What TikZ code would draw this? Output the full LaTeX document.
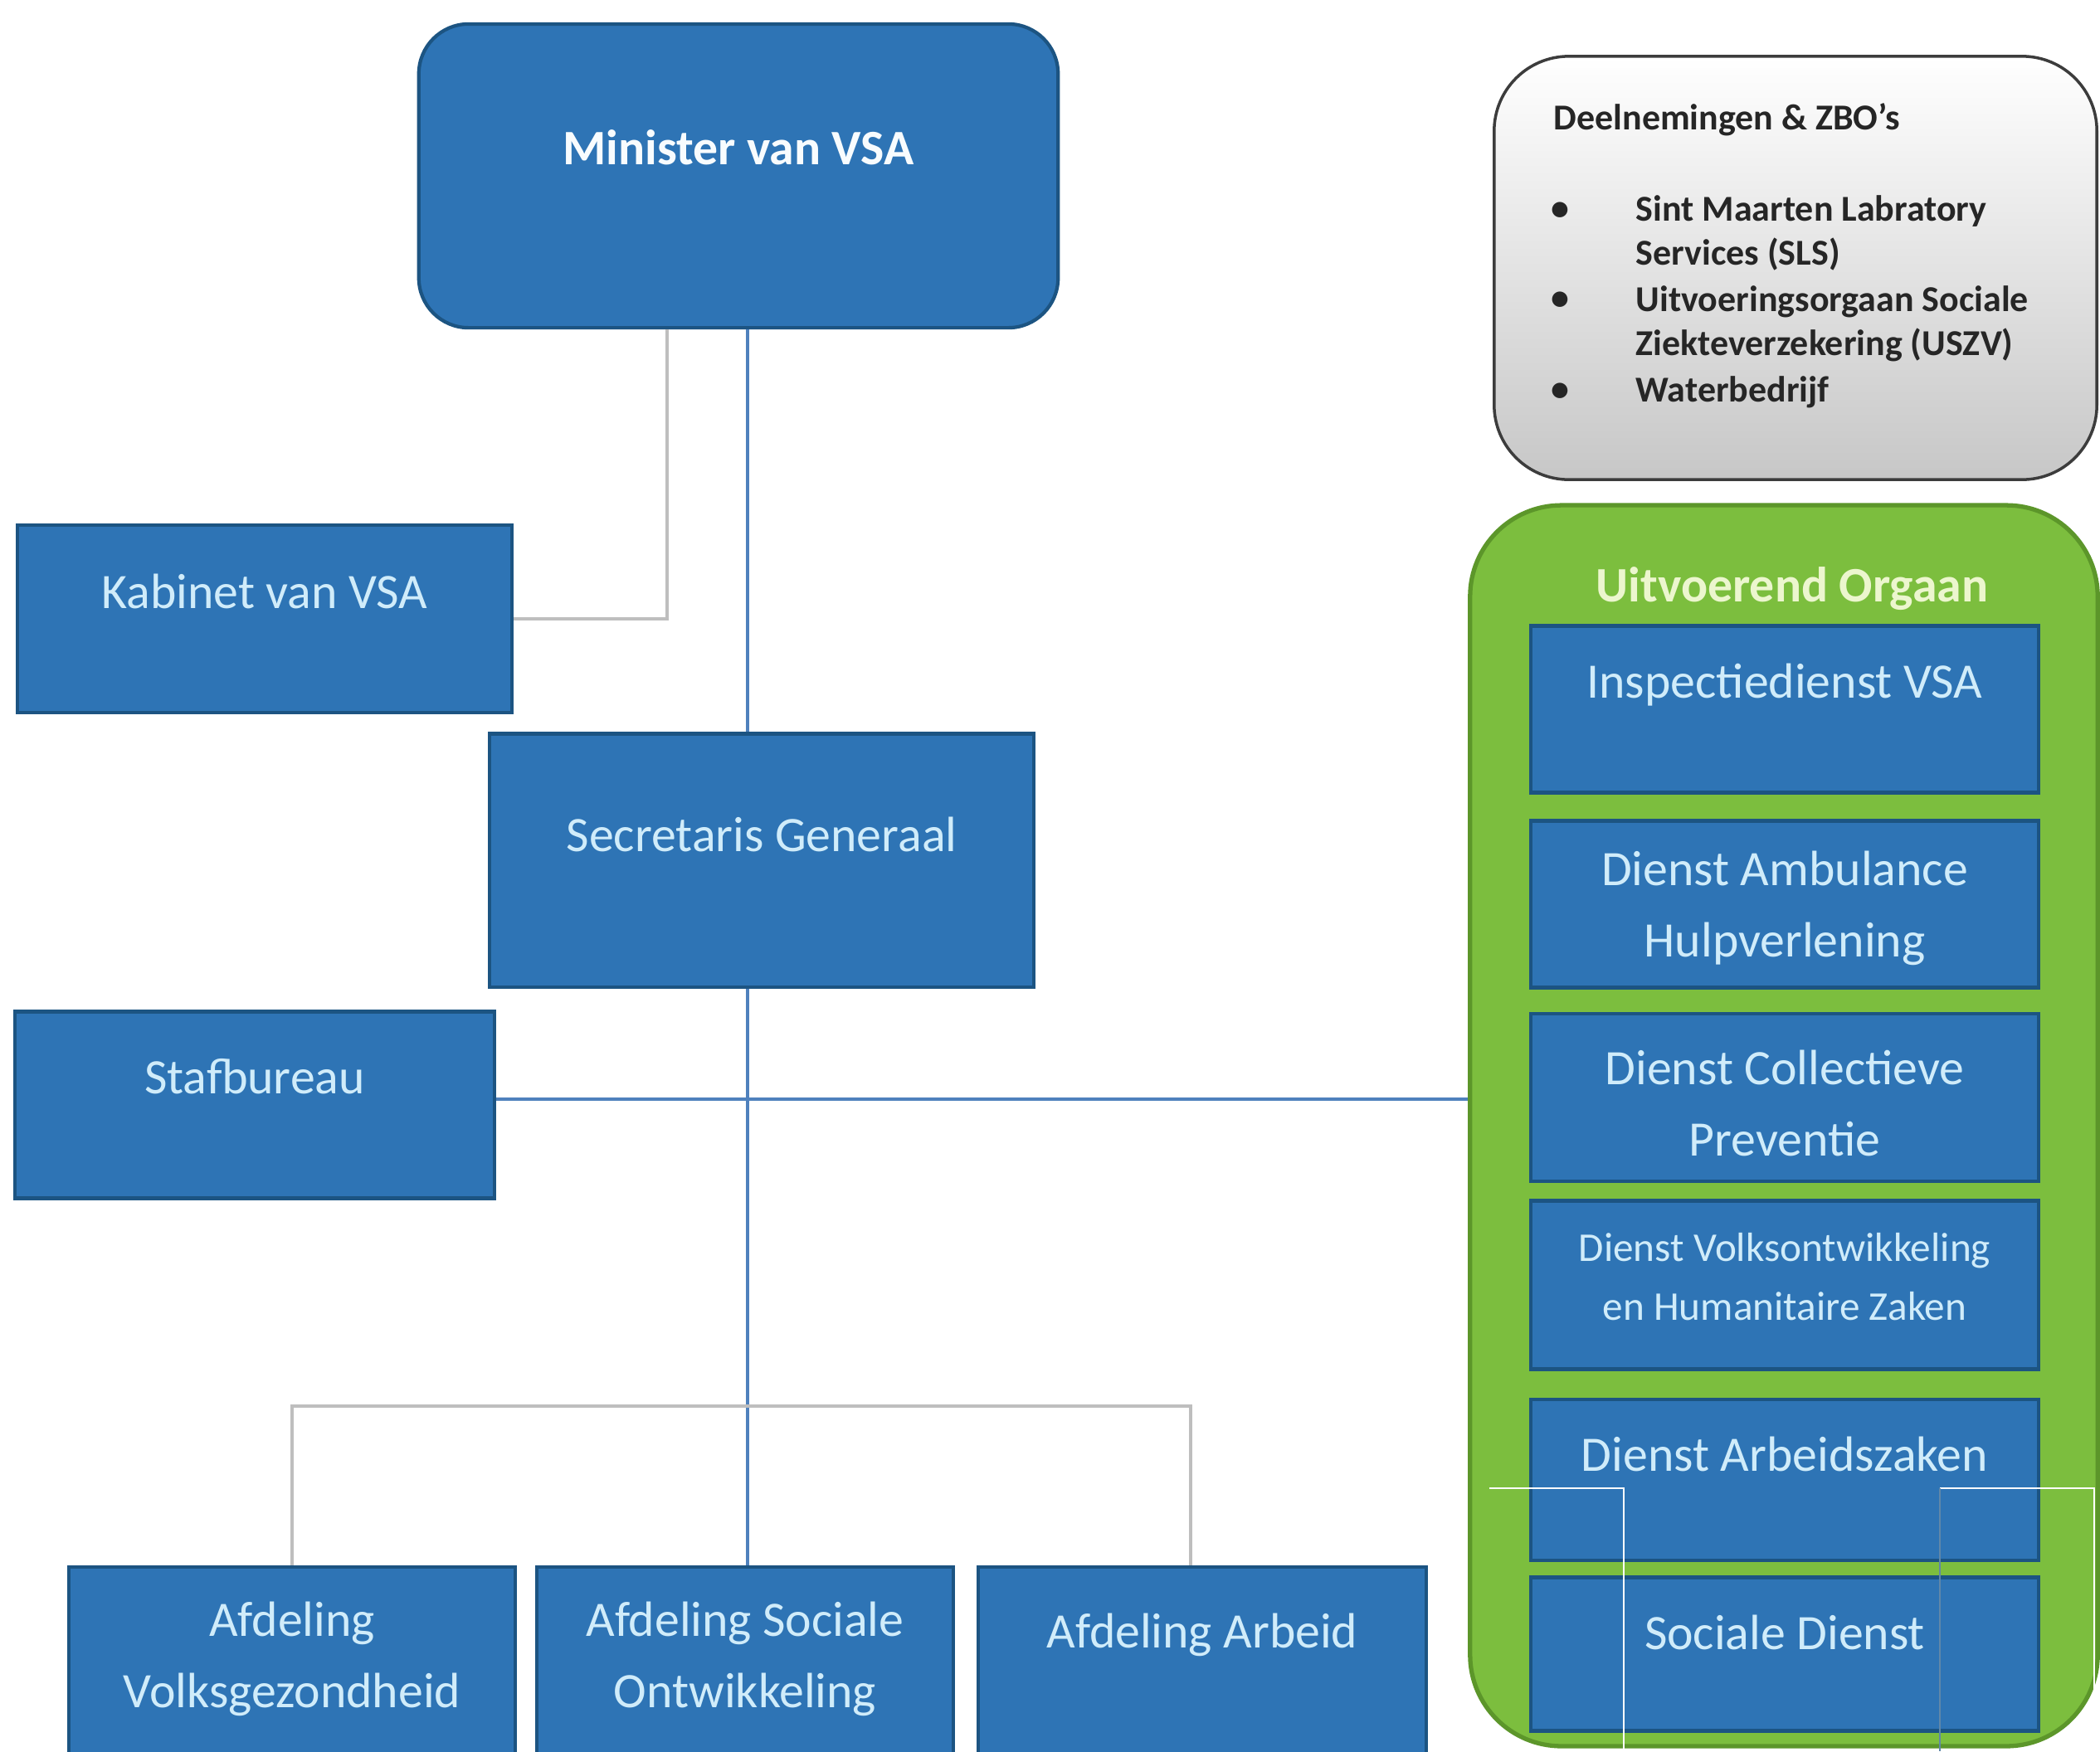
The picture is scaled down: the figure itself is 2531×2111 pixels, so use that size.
\documentclass[tikz,border=0pt]{standalone}
\usepackage{fontspec}
\setmainfont{Carlito}
\usepackage{tikz}
\usetikzlibrary{positioning}
\definecolor{vsablauw}{RGB}{46,116,181}
\definecolor{vsarand}{RGB}{28,84,130}
\definecolor{vsatekst}{RGB}{208,236,250}
\definecolor{orgaangroen}{RGB}{124,190,62}
\definecolor{orgaanrand}{RGB}{92,150,42}
\definecolor{orgaantekst}{RGB}{236,246,206}
\definecolor{grijsrand}{RGB}{60,60,60}
\definecolor{lijngrijs}{RGB}{190,190,190}
\definecolor{lijnblauw}{RGB}{79,129,189}

\begin{document}
\begin{tikzpicture}[x=0.01cm,y=-0.01cm,
	blok/.style={draw=vsarand,line width=1.2pt,fill=vsablauw,inner sep=0pt},
	bloktekst/.style={text=vsatekst,font=\fontsize{17}{24.5}\selectfont,align=center,inner sep=0pt},
	lijsttekst/.style={text=black!85,font=\fontsize{12.5}{15}\selectfont\bfseries,align=left,inner sep=0pt},
	lijn/.style={draw=lijngrijs,line width=1pt},
	lijnb/.style={draw=lijnblauw,line width=1pt}]
	\clip (0,0) rectangle (2531,2111);
	\fill [white] (0,0) rectangle (2531,2111);
	% linkerkant
	\node [blok,rounded corners=0.6cm,minimum width=7.7cm,minimum height=3.66cm] (minister) at (890,212) {};
	\node [bloktekst,text=white!85!vsatekst,font=\fontsize{17}{24.5}\selectfont\bfseries] (ministertekst) at (890,178) {Minister van VSA};
	\node [blok,minimum width=5.96cm,minimum height=2.26cm] (kabinet) at (319,746) {};
	\node [bloktekst] (kabinettekst) at (319,713) {Kabinet van VSA};
	\node [blok,minimum width=6.55cm,minimum height=3.05cm] (secgen) at (918,1037) {};
	\node [bloktekst] (secgentekst) at (918,1006) {Secretaris Generaal};
	\node [blok,minimum width=5.77cm,minimum height=2.25cm] (stafbureau) at (307,1332) {};
	\node [bloktekst] (stafbureautekst) at (307,1298) {Stafbureau};
	\node [blok,minimum width=5.37cm,minimum height=2.6cm] (afdvg) at (352,2019) {};
	\node [bloktekst] (afdvgtekst) at (352,2000) {Afdeling\\Volksgezondheid};
	\node [blok,minimum width=5.02cm,minimum height=2.6cm] (afdso) at (898,2019) {};
	\node [bloktekst] (afdsotekst) at (898,2000) {Afdeling Sociale\\Ontwikkeling};
	\node [blok,minimum width=5.39cm,minimum height=2.6cm] (afdarb) at (1449,2019) {};
	\node [bloktekst] (afdarbtekst) at (1449,1971) {Afdeling Arbeid};
	% deelnemingen
	\node [draw=grijsrand,line width=1pt,rounded corners=0.9cm,top color=white,bottom color=black!22,minimum width=7.26cm,minimum height=5.1cm] (deelnemingen) at (2164,323) {};
	\node [lijsttekst,anchor=west] (deeltitel) at (1872,144) {Deelnemingen \& ZBO’s};
	\node [lijsttekst] (bol1) at (1880,255) {•};
	\node [lijsttekst] (bol2) at (1880,363) {•};
	\node [lijsttekst] (bol3) at (1880,473) {•};
	\node [lijsttekst,anchor=west] (sls) at (1971,281) {Sint Maarten Labratory\\Services (SLS)};
	\node [lijsttekst,anchor=west] (uszv) at (1971,390) {Uitvoeringsorgaan Sociale\\Ziekteverzekering (USZV)};
	\node [lijsttekst,anchor=west] (water) at (1971,473) {Waterbedrijf};
	% uitvoerend orgaan
	\node [draw=orgaanrand,line width=1.5pt,fill=orgaangroen,rounded corners=1.1cm,minimum width=7.56cm,minimum height=14.95cm] (orgaan) at (2150,1357) {};
	\node [text=orgaantekst,font=\fontsize{17}{20}\selectfont\bfseries,inner sep=0pt] (orgaantitel) at (2160,710) {Uitvoerend Orgaan};
	\node [blok,minimum width=6.12cm,minimum height=2.01cm] (inspectie) at (2151,855) {};
	\node [bloktekst] (inspectietekst) at (2151,826) {Inspectiedienst VSA};
	\node [blok,minimum width=6.12cm,minimum height=2.01cm] (ambulance) at (2151,1090) {};
	\node [bloktekst] (ambulancetekst) at (2151,1095) {Dienst Ambulance\\Hulpverlening};
	\node [blok,minimum width=6.12cm,minimum height=2.02cm] (preventie) at (2151,1323) {};
	\node [bloktekst] (preventietekst) at (2151,1330) {Dienst Collectieve\\Preventie};
	\node [blok,minimum width=6.12cm,minimum height=2.03cm] (volks) at (2151,1549) {};
	\node [bloktekst,font=\fontsize{14}{20}\selectfont] (volkstekst) at (2151,1539) {Dienst Volksontwikkeling\\en Humanitaire Zaken};
	\node [blok,minimum width=6.12cm,minimum height=1.94cm] (arbeidszaken) at (2151,1784) {};
	\node [bloktekst] (arbeidszakentekst) at (2151,1753) {Dienst Arbeidszaken};
	\node [blok,minimum width=6.12cm,minimum height=1.85cm] (sociale) at (2151,1994) {};
	\node [bloktekst] (socialetekst) at (2151,1968) {Sociale Dienst};
	% lijnen
	\coordinate (kabtak) at (804,0);
	\coordinate (spil) at (901,0);
	\coordinate (tak) at (0,1695);
	\coordinate (takr) at (1435,0);
	\coordinate (staf) at (0,1325);
	\draw [lijn] (minister.south -| kabtak) |- (kabinet.east);
	\draw [lijnb] (minister.south -| spil) -- (secgen.north -| spil);
	\draw [lijnb] (secgen.south -| spil) -- (afdso.north -| spil);
	\draw [lijnb] (stafbureau.east |- staf) -- (orgaan.west |- staf);
	\draw [lijn] (afdvg.north) |- (tak -| takr) -- (afdarb.north -| takr);
	% witte randen
	\draw [white,line width=0.8pt] (1795,1794) -- (1957,1794) -- (1957,2111);
	\draw [white,line width=0.8pt] (2338,1794) -- (2524,1794) -- (2524,2111);
	\draw [vsarand!70,line width=0.6pt] (2338,1794) -- (2338,2111);
\end{tikzpicture}
\end{document}
